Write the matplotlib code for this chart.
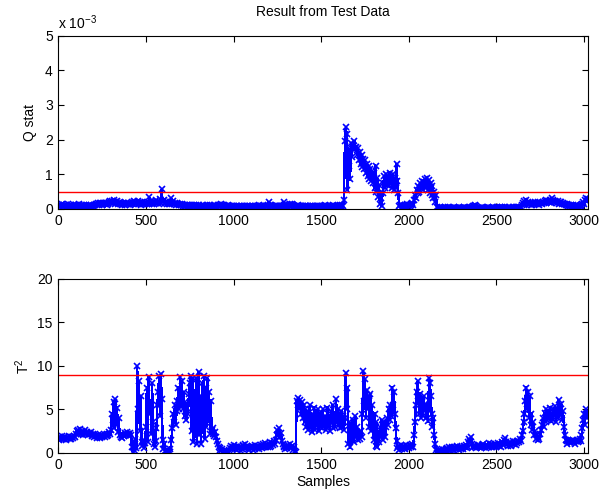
import matplotlib
matplotlib.use("Agg")
import matplotlib.pyplot as plt
import numpy as np

# one value every STEP samples, rows of 100 samples
STEP = 5

# Q statistic, in units of 1e-3
q_stat = [
    0.08,0.12,0.05,0.10,0.14,0.06,0.09,0.11,0.04,0.12,0.08,0.13,0.06,0.10,0.07,0.12,0.09,0.05,0.11,0.08,
    0.10,0.06,0.12,0.09,0.13,0.05,0.08,0.11,0.07,0.10,0.06,0.09,0.12,0.05,0.08,0.10,0.07,0.11,0.06,0.09,
    0.08,0.12,0.10,0.15,0.13,0.17,0.12,0.16,0.14,0.18,0.12,0.15,0.17,0.13,0.16,0.12,0.18,0.14,0.20,0.22,
    0.18,0.24,0.16,0.21,0.26,0.15,0.19,0.22,0.14,0.17,0.20,0.13,0.16,0.12,0.18,0.15,0.11,0.17,0.14,0.16,
    0.13,0.17,0.12,0.15,0.19,0.14,0.22,0.16,0.20,0.13,0.17,0.24,0.15,0.19,0.12,0.16,0.21,0.14,0.18,0.13,
    0.17,0.15,0.20,0.14,0.33,0.18,0.22,0.15,0.19,0.13,0.21,0.17,0.25,0.16,0.20,0.14,0.28,0.18,0.58,0.22,
    0.19,0.27,0.16,0.21,0.14,0.18,0.15,0.20,0.13,0.30,0.17,0.22,0.14,0.18,0.12,0.16,0.13,0.15,0.11,0.14,
    0.10,0.13,0.08,0.12,0.09,0.11,0.07,0.10,0.12,0.08,0.10,0.06,0.09,0.11,0.07,0.10,0.08,0.12,0.06,0.09,
    0.08,0.11,0.06,0.09,0.07,0.10,0.08,0.05,0.09,0.07,0.10,0.06,0.08,0.11,0.07,0.09,0.06,0.08,0.10,0.07,
    0.09,0.06,0.10,0.08,0.12,0.09,0.14,0.10,0.08,0.11,0.07,0.09,0.06,0.08,0.10,0.07,0.09,0.05,0.08,0.07,
    0.06,0.08,0.05,0.07,0.09,0.06,0.08,0.05,0.07,0.06,0.08,0.05,0.07,0.09,0.06,0.08,0.05,0.07,0.06,0.08,
    0.05,0.07,0.09,0.06,0.08,0.05,0.07,0.06,0.08,0.10,0.06,0.08,0.05,0.07,0.09,0.06,0.08,0.07,0.09,0.12,
    0.20,0.10,0.08,0.12,0.07,0.09,0.06,0.08,0.07,0.09,0.08,0.06,0.09,0.07,0.08,0.06,0.09,0.20,0.10,0.08,
    0.07,0.09,0.06,0.12,0.15,0.10,0.08,0.13,0.11,0.07,0.09,0.06,0.08,0.10,0.07,0.09,0.06,0.08,0.07,0.09,
    0.06,0.08,0.07,0.09,0.06,0.08,0.05,0.07,0.09,0.06,0.08,0.07,0.05,0.08,0.06,0.09,0.07,0.05,0.08,0.06,
    0.07,0.09,0.06,0.08,0.10,0.07,0.09,0.06,0.08,0.07,0.09,0.06,0.08,0.10,0.07,0.09,0.06,0.08,0.07,0.09,
    0.08,0.10,0.07,0.09,0.11,0.08,0.25,1.95,2.35,2.15,0.55,1.75,1.25,0.85,1.90,1.50,1.85,1.70,1.95,1.75,
    1.80,1.55,1.75,1.40,1.65,1.30,1.55,1.20,1.45,1.15,1.40,1.05,1.30,0.95,1.25,0.85,1.15,0.80,1.10,0.75,
    1.05,0.60,1.25,0.50,0.90,0.35,0.70,0.15,0.30,0.08,0.45,0.75,0.95,0.60,1.00,0.70,0.95,0.65,1.05,0.75,
    0.95,0.60,1.00,0.55,0.90,0.60,1.30,0.80,0.45,0.08,0.10,0.04,0.12,0.06,0.09,0.05,0.11,0.07,0.13,0.08,
    0.12,0.08,0.15,0.10,0.18,0.12,0.25,0.40,0.30,0.55,0.45,0.65,0.50,0.75,0.60,0.80,0.55,0.78,0.62,0.85,
    0.60,0.88,0.55,0.82,0.45,0.75,0.40,0.65,0.30,0.50,0.20,0.40,0.05,0.03,0.04,0.02,0.05,0.03,0.04,0.02,
    0.03,0.05,0.02,0.04,0.03,0.05,0.02,0.04,0.03,0.02,0.04,0.03,0.05,0.02,0.04,0.03,0.02,0.05,0.03,0.04,
    0.02,0.04,0.03,0.05,0.02,0.04,0.03,0.02,0.04,0.03,0.05,0.03,0.06,0.09,0.07,0.10,0.06,0.08,0.04,0.03,
    0.04,0.02,0.03,0.05,0.02,0.04,0.03,0.02,0.04,0.03,0.05,0.02,0.03,0.04,0.02,0.03,0.05,0.02,0.04,0.03,
    0.03,0.05,0.02,0.04,0.06,0.03,0.05,0.02,0.04,0.03,0.05,0.02,0.04,0.03,0.05,0.04,0.02,0.04,0.03,0.05,
    0.04,0.03,0.05,0.04,0.06,0.04,0.05,0.03,0.06,0.12,0.18,0.10,0.22,0.15,0.27,0.16,0.20,0.14,0.18,0.12,
    0.16,0.12,0.18,0.14,0.20,0.13,0.17,0.15,0.19,0.12,0.16,0.18,0.14,0.20,0.16,0.22,0.18,0.25,0.19,0.24,
    0.20,0.27,0.18,0.30,0.22,0.26,0.19,0.24,0.21,0.17,0.22,0.15,0.19,0.16,0.20,0.14,0.17,0.13,0.15,0.12,
    0.11,0.14,0.09,0.12,0.08,0.11,0.07,0.10,0.06,0.09,0.07,0.10,0.06,0.08,0.05,0.09,0.07,0.11,0.14,0.20,
    0.15,0.25,0.30,0.22,0.28,
]

# Hotelling T^2
t2_stat = [
    1.7,1.5,1.8,1.6,1.9,1.55,1.75,1.6,1.85,1.5,1.7,1.65,1.9,1.55,1.8,1.6,1.75,1.7,1.95,1.8,
    2.2,2.5,2.1,2.6,2.3,2.7,2.2,2.5,2.0,2.4,2.2,2.6,2.1,2.4,2.0,2.3,2.1,2.4,1.9,2.2,
    2.0,1.8,2.1,1.9,1.7,2.0,1.8,1.9,1.7,2.0,1.8,1.9,2.1,1.8,2.0,1.9,2.2,2.0,2.4,2.1,
    2.6,4.5,3.2,5.8,2.8,6.2,3.8,5.2,2.4,4.0,2.0,1.8,2.2,1.7,2.0,1.9,2.3,2.0,2.4,2.1,
    2.2,1.9,2.3,2.0,0.6,0.1,1.2,0.2,1.6,0.5,10.0,5.0,8.2,2.5,6.5,1.2,0.8,1.5,0.5,1.1,
    3.0,7.5,1.2,8.7,4.5,6.0,2.2,8.0,3.5,1.0,0.7,1.3,2.8,5.5,7.0,8.8,4.2,9.0,6.2,1.5,
    0.4,1.0,0.2,0.1,0.3,0.05,0.2,0.1,0.4,1.5,2.8,4.5,3.5,5.5,3.2,4.8,6.0,7.5,5.0,8.7,
    6.5,8.2,5.0,7.0,4.2,5.8,3.8,5.2,4.5,6.8,8.0,8.8,2.5,8.5,1.2,7.0,3.0,8.6,1.0,5.5,
    9.3,2.0,6.5,1.0,8.0,4.0,8.8,1.6,7.5,3.0,8.6,5.5,7.0,2.2,6.0,2.6,2.2,2.8,1.9,2.4,
    1.8,1.4,1.0,0.7,0.5,0.3,0.2,0.4,0.1,0.2,0.05,0.15,0.1,0.2,0.05,0.3,0.5,0.8,0.4,0.7,
    0.5,0.9,0.4,0.7,0.3,0.8,0.5,0.6,0.2,0.7,0.4,0.9,0.6,1.0,0.5,0.8,0.4,0.7,0.3,0.6,
    0.5,0.8,0.3,0.7,0.4,0.9,0.6,0.5,0.8,0.4,0.7,0.9,0.5,0.8,1.0,0.6,1.1,0.7,0.9,0.6,
    1.0,0.7,1.2,0.8,1.1,0.9,1.3,1.0,1.5,2.0,2.6,2.2,2.8,1.8,2.3,1.4,1.0,0.6,0.8,0.4,
    0.7,0.5,0.9,0.6,1.0,0.7,0.5,0.8,0.3,0.6,0.2,0.1,6.0,5.5,6.3,5.0,6.1,4.5,5.8,4.0,
    5.5,3.5,5.0,3.0,4.8,2.6,4.2,5.5,2.8,4.5,2.4,3.8,5.2,2.6,4.0,3.2,5.0,2.5,4.4,3.0,
    4.5,2.8,5.0,3.2,4.2,2.6,3.6,5.2,3.0,4.0,2.5,4.8,3.4,5.5,2.8,4.2,3.0,6.2,3.5,5.0,
    3.2,4.5,2.8,4.8,3.0,4.2,2.6,4.0,9.2,5.0,7.5,1.0,3.5,0.6,2.5,1.5,3.8,1.2,2.8,4.2,
    1.8,3.0,1.5,2.2,1.6,2.5,1.8,4.5,9.4,6.0,8.5,4.0,7.2,5.0,6.5,3.0,6.8,2.5,5.5,3.2,
    1.5,4.5,0.8,3.5,0.7,2.2,1.2,3.0,1.8,3.8,1.5,2.5,3.5,1.8,3.0,4.0,3.2,5.0,3.8,5.5,
    4.2,7.5,5.5,7.0,4.5,2.8,1.3,0.5,0.8,0.3,0.6,0.9,0.4,0.7,0.5,0.8,0.4,0.9,0.6,0.8,
    0.5,0.9,0.6,0.8,1.0,0.7,2.0,3.5,5.5,7.0,8.2,6.0,4.5,6.8,4.0,5.8,4.2,6.5,4.8,5.6,
    4.0,5.2,3.6,8.6,8.0,6.5,4.5,3.0,4.0,2.0,1.0,0.3,0.0,0.2,0.05,0.3,0.1,0.2,0.4,0.15,
    0.3,0.1,0.4,0.2,0.5,0.3,0.6,0.2,0.4,0.7,0.3,0.5,0.2,0.6,0.4,0.8,0.5,0.3,0.6,0.4,
    0.5,0.7,0.4,0.8,0.6,0.9,0.5,0.7,1.2,1.6,1.3,1.8,1.0,0.7,0.9,0.6,0.8,0.5,0.7,0.9,
    0.6,0.8,0.5,0.9,0.7,1.0,0.6,0.8,0.5,0.9,0.7,1.1,0.6,0.8,1.0,0.7,0.9,0.6,1.0,0.8,
    0.7,0.9,1.1,0.8,1.0,0.7,1.2,0.9,1.1,1.5,1.7,1.2,1.0,0.8,1.1,0.9,1.2,0.8,1.0,1.3,
    1.0,1.2,0.9,1.3,1.1,1.4,1.2,1.6,1.3,2.0,2.5,3.5,4.5,6.0,7.5,5.0,7.0,4.0,6.5,3.2,
    4.5,2.6,3.5,2.0,2.5,1.6,2.0,1.5,1.8,1.6,2.1,2.6,3.2,4.0,3.0,4.6,3.5,5.0,3.8,4.8,
    4.0,5.2,3.6,4.6,3.8,5.0,4.2,5.4,3.5,4.8,4.0,6.1,5.0,4.3,5.6,3.8,4.8,3.0,2.0,1.5,
    1.3,1.0,1.5,1.2,1.4,1.1,1.3,1.5,1.2,1.4,1.0,1.3,1.5,1.2,1.4,1.6,1.3,2.0,2.8,3.8,
    4.5,3.2,5.0,4.0,4.6,
]

q_limit = 0.5e-3
t2_limit = 8.9
n_samples = 3023
x_ticks = [0, 500, 1000, 1500, 2000, 2500, 3000]

plt.rcParams['font.family'] = ['Liberation Sans', 'DejaVu Sans']
plt.rcParams['font.size'] = 10
plt.rcParams['mathtext.default'] = 'regular'

samples = np.arange(len(q_stat)) * STEP
q_vals = np.array(q_stat) * 1e-3
t2_vals = np.array(t2_stat)

fig = plt.figure(figsize=(6.02, 4.95), dpi=100)
ax1 = fig.add_axes([0.0969, 0.578, 0.880, 0.350])
ax2 = fig.add_axes([0.0969, 0.0855, 0.880, 0.351])


def style_axes(ax):
    ax.set_xlim(0, n_samples)
    ax.set_xticks(x_ticks)
    ax.tick_params(direction='in', top=True, right=True, length=4, width=0.8,
                   labelsize=10, pad=4)
    for sp in ax.spines.values():
        sp.set_linewidth(0.8)


def draw_series(ax, vals):
    # thin trace underneath so the dense stretches read as a solid band
    ax.plot(samples, vals, '-', color='b', lw=1.0, antialiased=False)
    ax.plot(samples, vals, 'x', color='b', ms=5, mew=1.2, antialiased=False)


# Q stat panel
draw_series(ax1, q_vals)
ax1.axhline(q_limit, color='r', lw=1)
ax1.set_ylim(0, 5e-3)
ax1.set_yticks(np.arange(0, 6) * 1e-3)
ax1.set_yticklabels([str(i) for i in range(6)])
ax1.set_ylabel('Q stat', labelpad=6)
ax1.set_title('Result from Test Data', fontsize=10, pad=14)
ax1.text(0.0, 1.02, 'x 10$^{-3}$', transform=ax1.transAxes, ha='left', va='bottom')
style_axes(ax1)

# T^2 panel
draw_series(ax2, t2_vals)
ax2.axhline(t2_limit, color='r', lw=1)
ax2.set_ylim(0, 20)
ax2.set_yticks([0, 5, 10, 15, 20])
ax2.set_ylabel('T$^2$', labelpad=4)
ax2.set_xlabel('Samples', labelpad=2)
style_axes(ax2)

fig.savefig('out.png', dpi=100)
